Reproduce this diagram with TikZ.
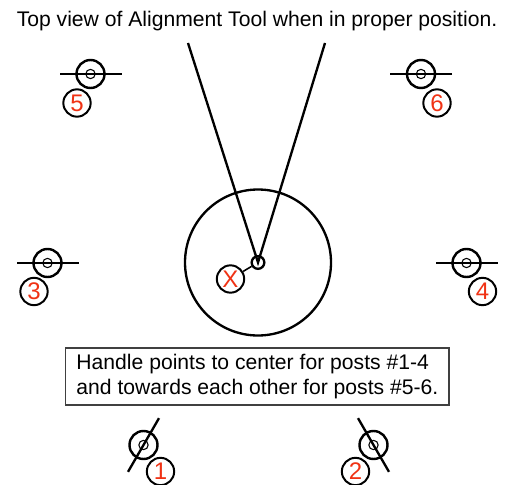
\documentclass[tikz,border=0pt]{standalone}
\usepackage{fontspec}
\setmainfont{Liberation Sans}
\definecolor{numred}{RGB}{240,50,20}
\tikzset{
  x=0.75pt,y=-0.75pt,
  heavy/.style={line width=1.75pt,black},
  numcirc/.style={circle,draw=black,line width=1.5pt,fill=white,minimum size=20.5pt,inner sep=0pt,text=numred,font=\fontsize{18}{18}\selectfont},
  outerpost/.style={circle,draw=black,line width=1.8pt,minimum size=21pt,inner sep=0pt},
  innerpost/.style={circle,draw=black,line width=0.8pt,minimum size=7pt,inner sep=0pt},
  caption/.style={font=\fontsize{15.85}{18.75}\selectfont,text=black},
}
\newcommand{\postmark}[4]{% name, x, y, angle
  \node[outerpost] (#1o) at (#2,#3) {};
  \node[innerpost] (#1i) at (#2,#3) {};
  \coordinate (#1a) at ([shift={(#4:31*0.75pt)}]#1i.center);
  \coordinate (#1b) at ([shift={(#4+180:31*0.75pt)}]#1i.center);
  \draw[heavy] (#1a) -- (#1b);
}
\begin{document}
\begin{tikzpicture}
\useasboundingbox (0,0) rectangle (514,485);
\node[caption,anchor=base] (title) at (257,27) {Top view of Alignment Tool when in proper position.};
\postmark{p5}{90.5}{74}{0}
\postmark{p6}{421}{74}{0}
\postmark{p3}{47.5}{263}{0}
\postmark{p4}{466.5}{263}{0}
\postmark{p1}{143.5}{445}{60}
\postmark{p2}{373.5}{445}{120}
\node[numcirc] (n5) at (77,103) {5};
\node[numcirc] (n6) at (437,103) {6};
\node[numcirc] (n3) at (34,291.5) {3};
\node[numcirc] (n4) at (482.5,291.5) {4};
\node[numcirc] (n1) at (160.5,471.5) {1};
\node[numcirc] (n2) at (355.5,471.5) {2};
\node[circle,draw,heavy,minimum size=109.5pt,inner sep=0pt] (big) at (258,262.5) {};
\node[circle,draw,heavy,minimum size=9.5pt,inner sep=0pt] (hub) at (258,262.5) {};
\node[numcirc] (x) at (230.5,279) {X};
\draw[line width=1.2pt] (x) -- (hub);
\coordinate (hl) at (188,43);
\coordinate (hr) at (325,43);
\draw[heavy] (hl) -- (hub.center) -- (hr);
\node[draw=black!75,line width=0.9pt,fill=white,minimum width=287.5pt,minimum height=42.75pt,inner xsep=7.5pt,inner ysep=0pt,align=left,caption] (box) at (257.4,376.5) {Handle points to center for posts \#1-4\\and towards each other for posts \#5-6.};
\end{tikzpicture}
\end{document}
